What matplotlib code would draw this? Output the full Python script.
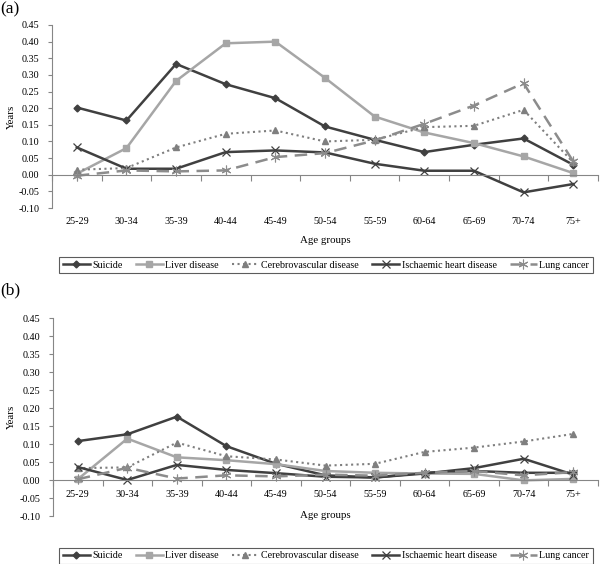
import matplotlib
matplotlib.use("Agg")
import matplotlib.pyplot as plt
from matplotlib.lines import Line2D

plt.rcParams['font.family'] = ['Liberation Serif', 'DejaVu Serif']

categories = ["25-29", "30-34", "35-39", "40-44", "45-49", "50-54",
              "55-59", "60-64", "65-69", "70-74", "75+"]
series_names = ["Suicide", "Liver disease", "Cerebrovascular disease",
                "Ischaemic heart disease", "Lung cancer"]

# Panel (a)
a_suicide = [0.202, 0.163, 0.333, 0.272, 0.230, 0.145, 0.105, 0.068, 0.090, 0.109, 0.030]
a_liver = [0.003, 0.080, 0.282, 0.395, 0.400, 0.291, 0.175, 0.127, 0.095, 0.055, 0.005]
a_cerebro = [0.015, 0.020, 0.082, 0.123, 0.133, 0.100, 0.105, 0.143, 0.147, 0.195, 0.037]
a_ischaemic = [0.082, 0.018, 0.018, 0.068, 0.073, 0.067, 0.033, 0.012, 0.012, -0.053, -0.028]
a_lung = [-0.003, 0.013, 0.010, 0.013, 0.053, 0.065, 0.103, 0.153, 0.208, 0.275, 0.040]

# Panel (b)
b_suicide = [0.108, 0.127, 0.176, 0.094, 0.045, 0.013, 0.007, 0.020, 0.025, 0.020, 0.020]
b_liver = [0.002, 0.115, 0.063, 0.055, 0.044, 0.025, 0.020, 0.018, 0.017, -0.001, 0.003]
b_cerebro = [0.033, 0.035, 0.104, 0.066, 0.057, 0.040, 0.045, 0.078, 0.090, 0.107, 0.128]
b_ischaemic = [0.036, 0.000, 0.042, 0.028, 0.019, 0.009, 0.007, 0.018, 0.033, 0.059, 0.015]
b_lung = [0.002, 0.034, 0.004, 0.013, 0.010, 0.015, 0.012, 0.020, 0.025, 0.013, 0.022]

yticks = [-0.10, -0.05, 0.00, 0.05, 0.10, 0.15, 0.20, 0.25, 0.30, 0.35, 0.40, 0.45]

styles = [
    dict(color='#404040', linestyle='-', marker='D', markersize=3.5, lw=1.8),
    dict(color='#a6a6a6', linestyle='-', marker='s', markersize=5, lw=1.8),
    dict(color='#7f7f7f', linestyle=':', marker='^', markersize=5, lw=1.5),
    dict(color='#404040', linestyle='-', marker='x', markersize=6, lw=1.8, markeredgewidth=0.9),
    dict(color='#8c8c8c', linestyle=(0, (5, 3)), marker=(6, 2, 0), markersize=7, lw=1.8, markeredgewidth=0.8),
]

W, H = 600, 564
fig = plt.figure(figsize=(W / 100, H / 100), dpi=100)

FS = 7.3
AXC = '#868686'


def make_panel(rect_px, data, label_y, xlabel_y, label_txt, label_pos, legend_px):
    x0, top, x1, bottom = rect_px
    ax = fig.add_axes([x0 / W, 1 - bottom / H, (x1 - x0) / W, (bottom - top) / H])
    xs = list(range(len(categories)))
    for vals, st in zip(data, styles):
        ax.plot(xs, vals, clip_on=False, **st)
    ax.set_xlim(-0.5, len(categories) - 0.5)
    ax.set_ylim(-0.10, 0.45)
    for s in ['top', 'right']:
        ax.spines[s].set_visible(False)
    ax.spines['left'].set_color(AXC)
    ax.spines['bottom'].set_color(AXC)
    ax.spines['bottom'].set_position(('data', 0))
    ax.set_yticks(yticks)
    ax.set_yticklabels(["%.2f" % v for v in yticks], fontsize=FS)
    ax.tick_params(axis='y', direction='out', length=3, color=AXC, pad=6)
    ax.set_xticks([i - 0.5 for i in range(len(categories) + 1)])
    ax.set_xticklabels([])
    ax.tick_params(axis='x', direction='out', length=4, color=AXC)
    for i, c in enumerate(categories):
        ax.text(i, label_y, c, ha='center', va='center', fontsize=FS, clip_on=False)
    ax.text((len(categories) - 1) / 2, xlabel_y, "Age groups", ha='center', va='center',
            fontsize=FS + 0.5, clip_on=False)
    ax.set_ylabel("Years", fontsize=FS + 0.5)
    ax.yaxis.set_label_coords((16 - x0) / (x1 - x0), 0.5)
    fig.text(label_pos[0] / W, 1 - label_pos[1] / H, label_txt, fontsize=12.5,
             ha='left', va='center')
    handles = [Line2D([], [], **st) for st in styles]
    cx, cy = legend_px
    leg = fig.legend(handles, series_names, loc='center', ncol=5,
                     bbox_to_anchor=(cx / W, 1 - cy / H),
                     fontsize=7.2, frameon=True, fancybox=False, handlelength=2.7,
                     handletextpad=0.25, borderpad=0.35, columnspacing=1.3,
                     numpoints=1, borderaxespad=0)
    leg.get_frame().set_edgecolor('#333333')
    leg.get_frame().set_linewidth(0.8)
    return ax


make_panel((52, 25, 598, 208),
           [a_suicide, a_liver, a_cerebro, a_ischaemic, a_lung],
           label_y=-0.142, xlabel_y=-0.199, label_txt="(a)", label_pos=(0, 9),
           legend_px=(326, 265))

make_panel((53, 318, 598, 516),
           [b_suicide, b_liver, b_cerebro, b_ischaemic, b_lung],
           label_y=-0.039, xlabel_y=-0.10, label_txt="(b)", label_pos=(0, 290),
           legend_px=(326, 556))

fig.savefig("out.png", dpi=100)
